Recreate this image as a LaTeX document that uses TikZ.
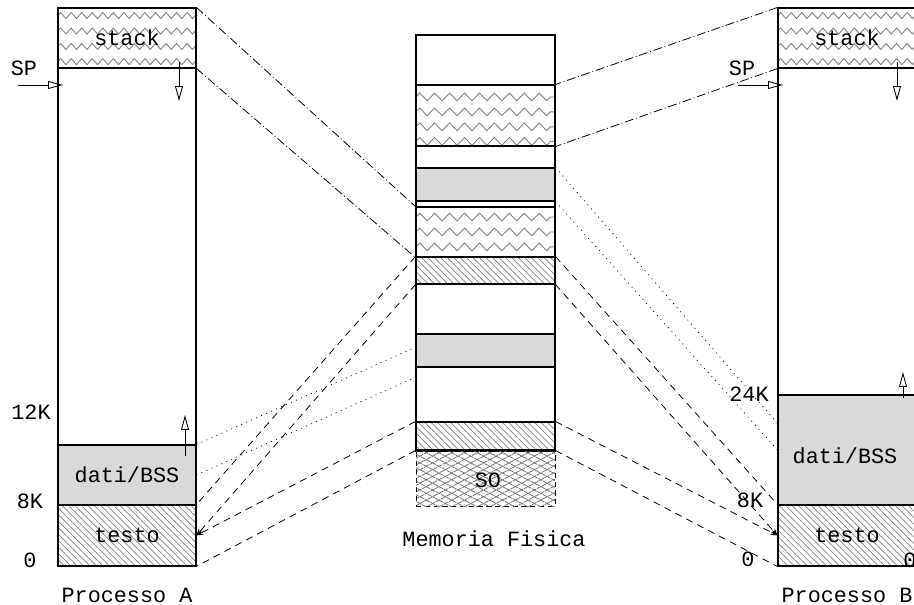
\documentclass[tikz,border=0pt]{standalone}
\usepackage{fontspec}
\setmonofont{Liberation Mono}
\usetikzlibrary{arrows.meta,patterns.meta,decorations.pathmorphing,fit}

\begin{document}
\begin{tikzpicture}[
    x=0.02cm, y=-0.02cm,
    every node/.style={font=\ttfamily\fontsize{12.4}{14}\selectfont},
    seg/.style={draw, line width=0.6pt, inner sep=0pt},
    dati/.style={seg, fill=gray!30},
    testo/.style={seg, pattern={Lines[angle=-45,distance=2.6pt,line width=0.4pt]}, pattern color=gray},
    so/.style={draw, densely dashed, line width=0.5pt, inner sep=0pt,
        pattern={Lines[angle=28,distance=3.4pt,line width=0.45pt]}, pattern color=gray!90!black,
        postaction={pattern={Lines[angle=-28,distance=3.4pt,line width=0.45pt]}, pattern color=gray!90!black}},
    zigP/.style={seg, path picture={\foreach \row in {#1} \draw[gray, line width=0.5pt, decorate, decoration={zigzag, segment length=6pt, amplitude=1.7pt}] ([yshift=-\row pt]path picture bounding box.north west) -- ([yshift=-\row pt]path picture bounding box.north east);}},
    zigM/.style={seg, path picture={\foreach \row in {#1} \draw[gray, line width=0.5pt, decorate, decoration={zigzag, segment length=8.5pt, amplitude=2.2pt}] ([yshift=-\row pt]path picture bounding box.north west) -- ([yshift=-\row pt]path picture bounding box.north east);}},
    growarrow/.style={-{Triangle[open,length=8.5pt,width=4.5pt]}, line width=0.5pt},
    stackmap/.style={line width=0.45pt, dash pattern=on 5pt off 1.6pt on 0.5pt off 1.6pt},
    datimap/.style={line width=0.45pt, dash pattern=on 0.5pt off 2.6pt},
    testomap/.style={line width=0.45pt, dash pattern=on 4pt off 3pt},
    testoarrow/.style={testomap, -{Stealth[length=4pt,width=3pt]}}
]
\useasboundingbox (0,0) rectangle (914,605);
\clip (0,0) rectangle (914,605);

% Processo A
\node[seg, fit={(58,8) (196,566)}] (Aproc) {};
\node[zigP={4.3,13.1,21.9,30.5}, fit={(58,8) (196,68)}] (Astack) {};
\node[dati, fit={(58,445) (196,505)}] (Adati) {};
\node[testo, fit={(58,505) (196,566)}] (Atesto) {};
\node (tAstack) at (Astack.center) {stack};
\node (tAdati) at (Adati.center) {dati/BSS};
\node (tAtesto) at (Atesto.center) {testo};

% Memoria fisica
\node[seg, fit={(416,35) (555,451)}] (Mem) {};
\node[zigM={6.8,15.3,23.8,32.1}, fit={(416,85) (555,146)}] (Mstack1) {};
\node[dati, fit={(416,168) (555,201)}] (Mdati2) {};
\node[zigM={5.7,14.2,22.7}, fit={(416,207) (555,257)}] (Mstack2) {};
\node[testo, fit={(416,257) (555,284)}] (Mtesto1) {};
\node[dati, fit={(416,334) (555,367)}] (Mdati1) {};
\node[testo, fit={(416,422) (555,450)}] (Mtesto2) {};
\node[so, fit={(416,451) (555,506)}] (Mso) {};
\node (tMso) at (488,480) {SO};

% Processo B
\node[seg, fit={(778,8) (916,566)}] (Bproc) {};
\node[zigP={4.3,13.1,21.9,30.5}, fit={(778,8) (916,68)}] (Bstack) {};
\node[dati, fit={(778,395) (916,505)}] (Bdati) {};
\node[testo, fit={(778,505) (916,566)}] (Btesto) {};
\node (tBstack) at (Bstack.center) {stack};
\node (tBdati) at (845,456) {dati/BSS};
\node (tBtesto) at (Btesto.center) {testo};

% Labels
\node (spA) at (24,68) {SP};
\node (lblA12) at (31,412) {12K};
\node (lblA8) at (30,501) {8K};
\node (lblA0) at (30,560) {0};
\node (capA) at (127,595) {Processo A};
\node (capM) at (494,539) {Memoria Fisica};
\node (spB) at (742,68) {SP};
\node (lblB24) at (749,394) {24K};
\node (lblB8) at (750,500) {8K};
\node (lblB0) at (748,559) {0};
\node (lblB0r) at (910,560) {0};
\node (capB) at (847,595) {Processo B};

% SP and growth arrows
\coordinate (spAtail) at (18,85);
\coordinate (spAtip) at (63,85);
\coordinate (spBtail) at (738,85);
\coordinate (spBtip) at (783,85);
\coordinate (dnA0) at (179,62);
\coordinate (dnA1) at (179,101);
\coordinate (upA0) at (185,456);
\coordinate (upA1) at (185,415);
\coordinate (dnB0) at (897,62);
\coordinate (dnB1) at (897,101);
\coordinate (upB0) at (903,398);
\coordinate (upB1) at (903,372);
\draw[growarrow] (spAtail) -- (spAtip);
\draw[growarrow] (spBtail) -- (spBtip);
\draw[growarrow] (dnA0) -- (dnA1);
\draw[growarrow] (upA0) -- (upA1);
\draw[growarrow] (dnB0) -- (dnB1);
\draw[growarrow] (upB0) -- (upB1);

% Stack mapping
\draw[stackmap] (Astack.north east) -- (Mstack2.north west);
\draw[stackmap] (Astack.south east) -- (Mstack2.south west);
\draw[stackmap] (Bstack.north west) -- (Mstack1.north east);
\draw[stackmap] (Bstack.south west) -- (Mstack1.south east);

% Dati mapping
\coordinate (mA1) at (416,347);
\coordinate (mA2) at (416,377);
\coordinate (bD1) at (778,424);
\draw[datimap] (Adati.north east) -- (mA1);
\draw[datimap] (Adati.east) -- (mA2);
\draw[datimap] (Mdati2.north east) -- (bD1);
\draw[datimap] (Mdati2.south east) -- (Bdati.west);

% Testo mapping
\draw[testomap] (Mtesto1.north west) -- (Atesto.north east);
\draw[testoarrow] (Mtesto1.south west) -- (Atesto.east);
\draw[testoarrow] (Mtesto2.north west) -- (Atesto.east);
\draw[testomap] (Mtesto2.south west) -- (Atesto.south east);
\draw[testomap] (Mtesto1.north east) -- (Btesto.north west);
\draw[testoarrow] (Mtesto1.south east) -- (Btesto.west);
\draw[testoarrow] (Mtesto2.north east) -- (Btesto.west);
\draw[testomap] (Mtesto2.south east) -- (Btesto.south west);

\end{tikzpicture}
\end{document}
